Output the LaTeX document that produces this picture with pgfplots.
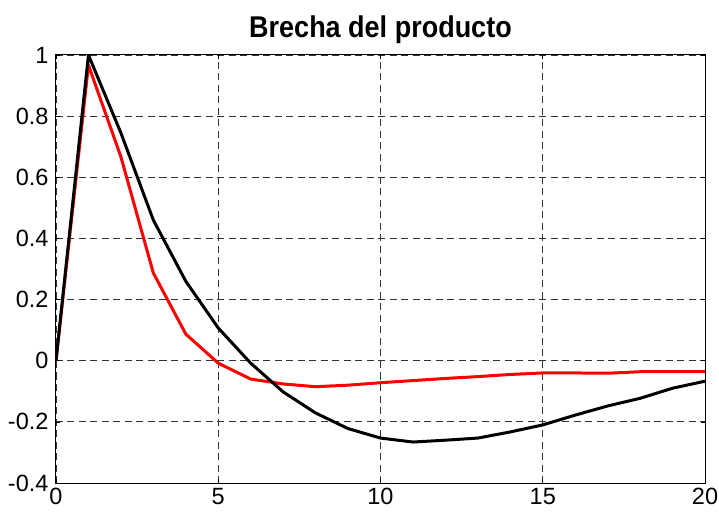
\documentclass[border=0pt]{standalone}
\usepackage{fontspec}
\setmainfont{Liberation Sans}
\newfontfamily\titlefont[FakeStretch=0.9]{Liberation Sans}
\usepackage{pgfplots}
\pgfplotsset{compat=1.18}

\begin{document}
\begin{tikzpicture}
\begin{axis}[
  scale only axis,
  width=649bp, height=428bp,
  xmin=0, xmax=20, ymin=-0.4, ymax=1,
  xtick={0,5,...,20},
  ytick={-0.4,-0.2,...,1.01},
  /pgf/number format/assume math mode=true,
  ticklabel style={font=\fontsize{23.5bp}{26bp}\selectfont},
  yticklabel style={xshift=-4bp},
  xticklabel style={yshift=-2bp},
  tick align=inside,
  major tick length=4bp,
  tick style={black, line width=0.6bp},
  axis line style={black, line width=1bp},
  grid=major,
  major grid style={black!80, line width=0.8bp, dash pattern=on 7bp off 4.5bp},
  title={\titlefont\bfseries\fontsize{30bp}{34bp}\selectfont Brecha del producto},
  title style={yshift=2bp},
]
% response of the simpler model
\addplot[red, line width=3bp] coordinates {
  (0,0) (1,0.967) (2,0.667) (3,0.287) (4,0.087) (5,-0.008)
  (6,-0.060) (7,-0.076) (8,-0.085) (9,-0.080) (10,-0.072)
  (11,-0.065) (12,-0.058) (13,-0.052) (14,-0.045) (15,-0.040)
  (16,-0.040) (17,-0.041) (18,-0.036) (19,-0.036) (20,-0.036)
};
% response of the full model
\addplot[black, line width=3bp] coordinates {
  (0,0) (1,1.0) (2,0.745) (3,0.46) (4,0.26) (5,0.107)
  (6,-0.008) (7,-0.102) (8,-0.171) (9,-0.222) (10,-0.253)
  (11,-0.266) (12,-0.260) (13,-0.253) (14,-0.233) (15,-0.210)
  (16,-0.178) (17,-0.148) (18,-0.123) (19,-0.090) (20,-0.067)
};
\end{axis}
\pgfresetboundingbox
\path (-56bp,-32bp) rectangle (663bp,483bp);
\end{tikzpicture}
\end{document}
